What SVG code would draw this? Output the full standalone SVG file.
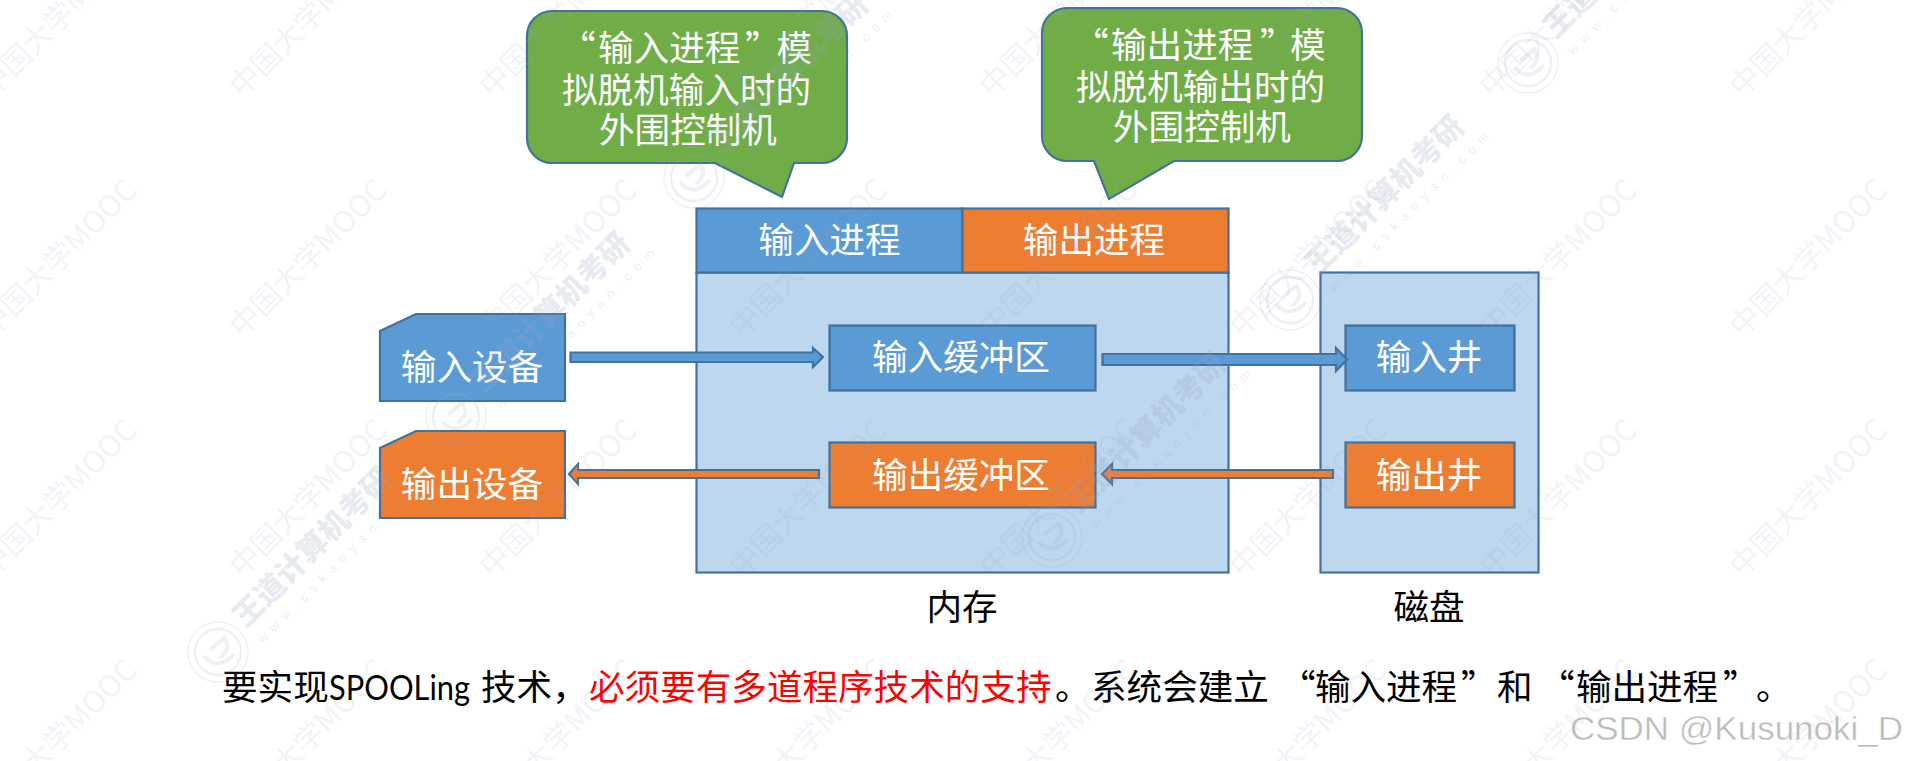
<svg xmlns="http://www.w3.org/2000/svg" width="1905" height="761" viewBox="0 0 1905 761">
<style>
.s{stroke:#41719C;stroke-width:2.2}
.b{fill:#5B9BD5}.o{fill:#ED7D31}.g{fill:#70AD47}.l{fill:#BDD7EE}
text{font-family:"Noto Sans CJK SC","Liberation Sans",sans-serif;font-size:35.6px}
.w{fill:#fff}.k{fill:#000}.r{fill:#f00}
.m{text-anchor:middle}
.wm1{fill:#9aa0c8;fill-opacity:.14;font-size:30px}
.wm2{fill:#9aa0c8;fill-opacity:.24;font-size:30px;font-weight:900}
.wm3{fill:#9aa0c8;fill-opacity:.2;font-family:"Liberation Sans",sans-serif;font-size:13px}
.wmc{fill:none;stroke:#9aa0c8;stroke-opacity:.16}
</style>
<defs>
<text id="wmMooc" class="wm1" transform="rotate(-45)">中国大学MOOC</text>
<g id="wmRow"><use href="#wmMooc" x="-8"/><use href="#wmMooc" x="242"/><use href="#wmMooc" x="492"/><use href="#wmMooc" x="742"/><use href="#wmMooc" x="992"/><use href="#wmMooc" x="1242"/><use href="#wmMooc" x="1492"/><use href="#wmMooc" x="1742"/></g>
<g id="wmLogo">
<circle class="wmc" r="30" stroke-width="1.5"/>
<circle class="wmc" r="23" stroke-width="2.5"/>
<path class="wmc" stroke-width="4" d="M-14 4Q0 20 16 2M-8 -2L6 -14Q14 -4 2 6"/>
<text class="wm2" transform="rotate(-45)" x="36" y="3">王道计算机考研</text>
<text class="wm3" transform="rotate(-45)" x="37" y="26" textLength="219">www.cskaoyan.com</text>
</g>
</defs>

<g id="memory"><rect class="s l" x="696.5" y="272.5" width="532" height="300"/></g>
<g id="disk"><rect class="s l" x="1320.5" y="272.5" width="218" height="300"/></g>

<g id="callout-input"><path class="s g" d="M552 11H822a25 25 0 0 1 25 25V138a25 25 0 0 1 -25 25H794L782 197L715 163H552a25 25 0 0 1 -25 -25V36a25 25 0 0 1 25 -25Z"/>
<text class="w" x="560 598 633.6 669.2 704.8 745 776.500" y="61">“输入进程”模</text><text class="w" x="562" y="103">拟脱机输入时的</text><text class="w" x="599" y="143">外围控制机</text></g>
<g id="callout-output"><path class="s g" d="M1067 8H1337a25 25 0 0 1 25 25V136a25 25 0 0 1 -25 25H1174L1109 199L1094 161H1067a25 25 0 0 1 -25 -25V33a25 25 0 0 1 25 -25Z"/>
<text class="w" x="1073 1111 1146.600 1182.200 1217.800 1260 1290" y="58">“输出进程”模</text><text class="w" x="1076" y="100">拟脱机输出时的</text><text class="w" x="1113" y="140">外围控制机</text></g>

<g id="proc-input"><rect class="s b" x="696.5" y="208.5" width="266" height="64"/><text class="w m" x="829.500" y="253">输入进程</text></g>
<g id="proc-output"><rect class="s o" x="962.5" y="208.5" width="266" height="64"/><text class="w m" x="1094" y="253">输出进程</text></g>

<g id="dev-input"><path class="s b" d="M416 314H565V401H380V331Z"/><text class="w m" x="472" y="380">输入设备</text></g>
<g id="dev-output"><path class="s o" d="M416 431H565V518H380V448Z"/><text class="w m" x="472" y="497">输出设备</text></g>

<g id="buf-input"><rect class="s b" x="829.5" y="325.5" width="266" height="65"/><text class="w m" x="961" y="370">输入缓冲区</text></g>
<g id="buf-output"><rect class="s o" x="829.5" y="442.5" width="266" height="65"/><text class="w m" x="961" y="488">输出缓冲区</text></g>
<g id="well-input"><rect class="s b" x="1345.5" y="325.5" width="169" height="65"/><text class="w m" x="1429" y="370">输入井</text></g>
<g id="well-output"><rect class="s o" x="1345.5" y="442.5" width="169" height="65"/><text class="w m" x="1429" y="488">输出井</text></g>

<g id="connectors">
<path class="s b" d="M570.5 352.5H813V348L823 357L813 367V362H570.5Z"/>
<path class="s b" d="M1102.5 354H1336V348L1347 359.500L1336 371V365H1102.5Z"/>
<path class="s o" d="M819 470H578V464L569 474L578 484V478H819Z"/>
<path class="s o" d="M1333 470H1112V464L1102 474L1112 484V478H1333Z"/>
</g>

<g id="label-memory"><text class="k m" x="962" y="620">内存</text></g>
<g id="label-disk"><text class="k m" x="1429" y="620">磁盘</text></g>

<g id="caption">
<text class="k" x="222" y="700">要实现</text>
<text class="k" x="329" y="700" style="font-family:Lato,sans-serif" textLength="141" lengthAdjust="spacingAndGlyphs">SPOOLing</text>
<text class="k" x="481" y="700">技术，</text>
<text class="r" x="589" y="700">必须要有多道程序技术的支持</text>
<text class="k" x="1055" y="700">。</text>
<text class="k" x="1091" y="700">系统会建立</text>
<text class="k" x="1280 1315 1350.500 1386 1421.500 1461" y="700">“输入进程”</text>
<text class="k" x="1497" y="700">和</text>
<text class="k" x="1539 1576 1611.500 1647 1682.500 1723 1756" y="700">“输出进程”。</text>
</g>

<g id="watermark">
<use href="#wmRow" y="99"/><use href="#wmRow" y="339"/><use href="#wmRow" y="579"/><use href="#wmRow" y="819"/>
<use href="#wmLogo" x="218" y="652"/><use href="#wmLogo" x="456" y="417"/><use href="#wmLogo" x="694" y="178"/><use href="#wmLogo" x="1052" y="537"/><use href="#wmLogo" x="1290" y="300"/><use href="#wmLogo" x="1528" y="63"/>
</g>

<text id="csdn" x="1570" y="740" style="font-family:'Liberation Sans',sans-serif;font-size:33px;fill:#bbb;stroke:#fff;stroke-width:.4" textLength="333" lengthAdjust="spacingAndGlyphs">CSDN @Kusunoki_D</text>
</svg>
